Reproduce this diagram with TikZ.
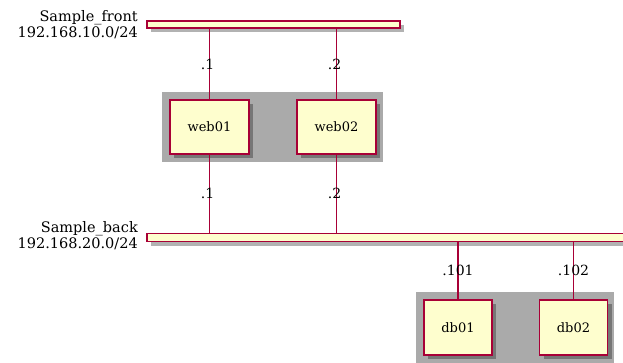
\documentclass[tikz,border=0pt]{standalone}
\usepackage{fontspec}
\setmainfont{DejaVu Serif}
\usetikzlibrary{positioning,shadows}
\definecolor{hostfill}{HTML}{FEFECE}
\definecolor{hostline}{HTML}{A80036}
\definecolor{groupfill}{HTML}{AAAAAA}
\tikzset{
  softshadow/.style={drop shadow={shadow xshift=4pt,shadow yshift=-4pt,fill=black,opacity=0.3}},
  netbar/.style={draw=hostline,fill=hostfill,line width=1.2pt,minimum height=7pt,inner sep=0pt,softshadow},
  host/.style={draw=hostline,fill=hostfill,line width=1.2pt,minimum height=54pt,inner sep=0pt,
    font=\fontsize{13}{15}\selectfont,softshadow},
  hostgroup/.style={fill=groupfill,inner sep=0pt},
  link/.style={draw=hostline,line width=1.2pt},
  addr/.style={inner sep=1pt,font=\fontsize{14}{16}\selectfont},
  netlabel/.style={align=right,anchor=east,inner sep=0pt,font=\fontsize{14.5}{16}\selectfont},
}
\begin{document}
\begin{tikzpicture}[x=1pt,y=-1pt]
  \useasboundingbox (0,0) rectangle (623,363);
  % groups first, so they stay behind
  \node[hostgroup,minimum width=221pt,minimum height=70pt] (webgroup) at (272.5,127) {};
  \node[hostgroup,minimum width=198pt,minimum height=71pt] (dbgroup) at (515,327.5) {};
  % networks
  \node[netbar,minimum width=253pt] (front) at (273.5,24.5) {};
  \node[netbar,minimum width=481pt,minimum height=8pt] (back) at (387.5,237.5) {};
  \node[netlabel] (frontlabel) at (138,25) {Sample\_front\\192.168.10.0/24};
  \node[netlabel] (backlabel) at (138,236) {Sample\_back\\192.168.20.0/24};
  % hosts
  \node[host,minimum width=79pt] (web01) at (209.5,127) {web01};
  \node[host,minimum width=79pt] (web02) at (336.5,127) {web02};
  \node[host,minimum width=68pt,minimum height=55pt] (db01) at (458,327.5) {db01};
  \node[host,minimum width=68pt,minimum height=55pt] (db02) at (573.5,327.5) {db02};
  % links
  \draw[link] (front.south -| web01.north) -- node[addr,xshift=-2pt] (a1) {.1} (web01.north);
  \draw[link] (front.south -| web02.north) -- node[addr,xshift=-2pt] (a2) {.2} (web02.north);
  \draw[link] (web01.south) -- node[addr,xshift=-2pt] (b1) {.1} (back.north -| web01.south);
  \draw[link] (web02.south) -- node[addr,xshift=-2pt] (b2) {.2} (back.north -| web02.south);
  \draw[link] (back.south -| db01.north) -- node[addr] (b101) {.101} (db01.north);
  \draw[link] (back.south -| db02.north) -- node[addr] (b102) {.102} (db02.north);
\end{tikzpicture}
\end{document}
